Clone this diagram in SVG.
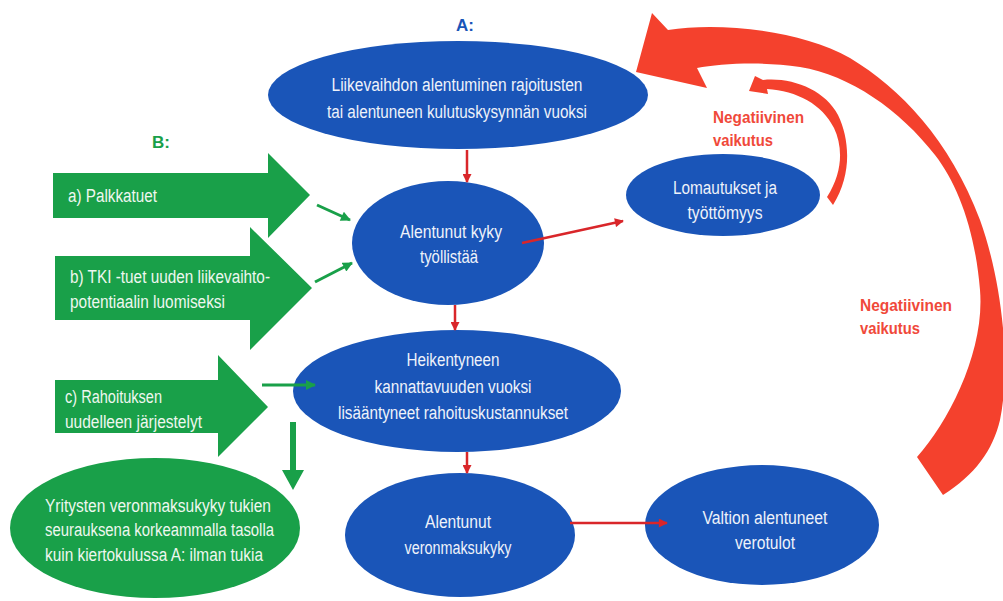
<svg xmlns="http://www.w3.org/2000/svg" width="1003" height="601" viewBox="0 0 1003 601">
<defs>
<style>
.blue{fill:#1a55b8}
.green{fill:#19a049}
.red{fill:#f4412d}
.t{font-family:"Liberation Sans",Arial,sans-serif;font-size:18px;fill:#eef2fa;text-anchor:middle}
.tg{font-family:"Liberation Sans",Arial,sans-serif;font-size:18px;fill:#eef7ef;text-anchor:start}
.lab{font-family:"Liberation Sans",Arial,sans-serif;font-size:17px;font-weight:bold}
.neg{font-family:"Liberation Sans",Arial,sans-serif;font-size:17px;font-weight:bold;fill:#f0493a}
.rc{stroke:#d9262a;stroke-width:2.5;fill:none}
.gc{stroke:#19a049;stroke-width:3;fill:none}
</style>
<marker id="rh" viewBox="0 0 10 10" refX="9" refY="5" markerWidth="10" markerHeight="9" markerUnits="userSpaceOnUse" orient="auto">
<path d="M0,0 L10,5 L0,10 Z" fill="#d9262a"/>
</marker>
<marker id="gh" viewBox="0 0 10 10" refX="9" refY="5" markerWidth="11" markerHeight="10" markerUnits="userSpaceOnUse" orient="auto">
<path d="M0,0 L10,5 L0,10 Z" fill="#19a049"/>
</marker>
</defs>
<rect width="1003" height="601" fill="#ffffff"/>

<g id="feedback-arrows">
<path class="red" d="M636,72 L652,13 L668,30 C720,22 800,30 850,58 C900,88 950,140 980,220 C1000,275 1012,360 1000,420 C993,450 975,475 943,495 L917,457 C950,420 985,350 980,290 C975,230 958,185 935,155 C900,110 850,75 800,67 C760,61 720,64 697,68 L707,88 Z"/>
<path class="red" d="M749,91 L755,76 L763,80 C792,77 825,90 838,115 C850,140 852,175 833,205 L827,197 C843,172 843,147 834,128 C822,104 797,91 767,89 L768,94 Z"/>
<text class="neg" x="713" y="123" textLength="91" lengthAdjust="spacingAndGlyphs">Negatiivinen</text>
<text class="neg" x="713" y="146" textLength="60" lengthAdjust="spacingAndGlyphs">vaikutus</text>
<text class="neg" x="860" y="311" textLength="92" lengthAdjust="spacingAndGlyphs">Negatiivinen</text>
<text class="neg" x="860" y="334" textLength="60" lengthAdjust="spacingAndGlyphs">vaikutus</text>
</g>

<g id="label-A">
<text class="lab" x="465" y="31" text-anchor="middle" fill="#1a55b8">A:</text>
</g>
<g id="label-B">
<text class="lab" x="161" y="148" text-anchor="middle" fill="#19a049">B:</text>
</g>

<g id="node-liikevaihto">
<ellipse class="blue" cx="458" cy="95" rx="190" ry="54"/>
<text class="t" x="457" y="91" textLength="251" lengthAdjust="spacingAndGlyphs">Liikevaihdon alentuminen rajoitusten</text>
<text class="t" x="457" y="118" textLength="260" lengthAdjust="spacingAndGlyphs">tai alentuneen kulutuskysynnän vuoksi</text>
</g>

<g id="node-tyollistaa">
<ellipse class="blue" cx="448" cy="243" rx="96" ry="62"/>
<text class="t" x="451" y="238" textLength="102" lengthAdjust="spacingAndGlyphs">Alentunut kyky</text>
<text class="t" x="449" y="263" textLength="58" lengthAdjust="spacingAndGlyphs">työllistää</text>
</g>

<g id="node-lomautukset">
<ellipse class="blue" cx="723" cy="195" rx="97" ry="41"/>
<text class="t" x="725" y="194" textLength="104" lengthAdjust="spacingAndGlyphs">Lomautukset ja</text>
<text class="t" x="725" y="219" textLength="75" lengthAdjust="spacingAndGlyphs">työttömyys</text>
</g>

<g id="node-rahoituskustannukset">
<ellipse class="blue" cx="457" cy="391" rx="164" ry="61"/>
<text class="t" x="453" y="366" textLength="93" lengthAdjust="spacingAndGlyphs">Heikentyneen</text>
<text class="t" x="453" y="393" textLength="157" lengthAdjust="spacingAndGlyphs">kannattavuuden vuoksi</text>
<text class="t" x="453" y="419" textLength="230" lengthAdjust="spacingAndGlyphs">lisääntyneet rahoituskustannukset</text>
</g>

<g id="node-veronmaksukyky">
<ellipse class="blue" cx="460" cy="535" rx="115" ry="62"/>
<text class="t" x="458" y="528" textLength="66" lengthAdjust="spacingAndGlyphs">Alentunut</text>
<text class="t" x="458" y="554" textLength="107" lengthAdjust="spacingAndGlyphs">veronmaksukyky</text>
</g>

<g id="node-verotulot">
<ellipse class="blue" cx="762" cy="525" rx="117" ry="60"/>
<text class="t" x="765" y="524" textLength="125" lengthAdjust="spacingAndGlyphs">Valtion alentuneet</text>
<text class="t" x="765" y="549" textLength="60" lengthAdjust="spacingAndGlyphs">verotulot</text>
</g>

<g id="node-palkkatuet">
<path class="green" d="M53,173 H268 V153 L310,195 L268,238 V218 H53 Z"/>
<text class="tg" x="68" y="202" textLength="89" lengthAdjust="spacingAndGlyphs">a) Palkkatuet</text>
</g>

<g id="node-tki">
<path class="green" d="M55,256 H250 V227 L312,288 L250,350 V320 H55 Z"/>
<text class="tg" x="70" y="283" textLength="200" lengthAdjust="spacingAndGlyphs">b) TKI -tuet uuden liikevaihto-</text>
<text class="tg" x="70" y="308" textLength="155" lengthAdjust="spacingAndGlyphs">potentiaalin luomiseksi</text>
</g>

<g id="node-rahoitus">
<path class="green" d="M55,380 H218 V355 L268,407 L218,457 V433 H55 Z"/>
<text class="tg" x="65" y="403" textLength="97" lengthAdjust="spacingAndGlyphs">c) Rahoituksen</text>
<text class="tg" x="65" y="428" textLength="137" lengthAdjust="spacingAndGlyphs">uudelleen järjestelyt</text>
</g>

<g id="node-yritysten">
<ellipse class="green" cx="155" cy="528" rx="145" ry="70"/>
<text class="tg" x="45" y="512" textLength="226" lengthAdjust="spacingAndGlyphs">Yritysten veronmaksukyky tukien</text>
<text class="tg" x="45" y="536" textLength="229" lengthAdjust="spacingAndGlyphs">seurauksena korkeammalla tasolla</text>
<text class="tg" x="45" y="561" textLength="218" lengthAdjust="spacingAndGlyphs">kuin kiertokulussa A: ilman tukia</text>
</g>

<g id="connectors">
<line class="rc" x1="467" y1="150" x2="467" y2="182" marker-end="url(#rh)"/>
<line class="rc" x1="455" y1="305" x2="455" y2="330" marker-end="url(#rh)"/>
<line class="rc" x1="467" y1="452" x2="467" y2="473" marker-end="url(#rh)"/>
<line class="rc" x1="522" y1="243" x2="623" y2="221" marker-end="url(#rh)"/>
<line class="rc" x1="570" y1="523" x2="667" y2="523" marker-end="url(#rh)"/>
<line class="gc" x1="317" y1="205" x2="350" y2="220" marker-end="url(#gh)"/>
<line class="gc" x1="315" y1="282" x2="352" y2="263" marker-end="url(#gh)"/>
<line class="gc" x1="262" y1="385" x2="315" y2="385" marker-end="url(#gh)"/>
<path class="green" d="M290,422 H296 V470 H304 L293,490 L282,470 H290 Z"/>
</g>
</svg>
